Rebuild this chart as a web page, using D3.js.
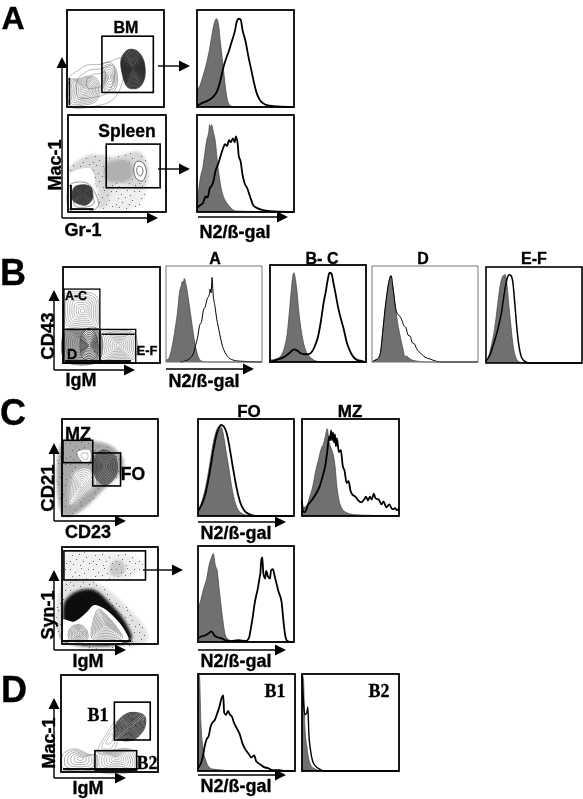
<!DOCTYPE html>
<html>
<head>
<meta charset="utf-8">
<script src="https://cdn.jsdelivr.net/npm/d3@7"></script>
<style>
  html, body { margin: 0; padding: 0; background: #fff; }
  svg { display: block; }
  text { font-family: "Liberation Sans", Arial, sans-serif; font-weight: bold; fill: #000; stroke: #000; stroke-width: 0.35; }
  .serif { font-family: "Liberation Serif", serif; }
</style>
</head>
<body>
<script>
// Histograms: [x%, height%]. ctrl is the grey filled curve.
const bmCtrl = [[0,3],[1,18],[3,22],[5,28],[8,38],[10,46],[13,60],[15,72],[18,87],[20,91],[22,86],[24,68],[26,50],[28,32],[30,15],[32,5],[35,1],[40,0],[100,0]];
const bmSamp = [[0,1],[5,4],[10,6],[15,9],[18,12],[21,17],[24,27],[27,40],[30,50],[33,58],[36,68],[39,78],[41,88],[43,91],[45,90],[47,79],[50,68],[53,52],[56,38],[59,24],[62,13],[65,7],[68,4],[72,2],[78,1],[100,0]];
const spCtrl = [[0,6],[2,25],[4,38],[6,46],[8,60],[10,74],[12,82],[13,90],[14,86],[15,90],[17,82],[19,72],[21,52],[23,36],[25,24],[28,14],[31,9],[35,4],[40,1],[100,0]];
const spSamp = [[0,4],[3,7],[6,9],[9,16],[11,15],[13,24],[15,27],[17,32],[19,42],[22,50],[25,60],[27,66],[29,70],[31,68],[33,74],[35,72],[37,76],[39,72],[40,78],[42,70],[43,58],[45,52],[47,38],[49,30],[52,24],[55,15],[58,7],[62,4],[68,2],[75,1],[100,0]];
const aCtrl = [[0,2],[3,4],[5,10],[8,25],[10,38],[12,52],[14,72],[16,80],[17,84],[18,82],[19,87],[21,80],[23,68],[25,54],[27,40],[30,20],[33,7],[37,1],[42,0],[100,0]];
const aSamp = [[15,0],[20,1],[25,4],[29,10],[31,18],[33,26],[35,38],[37,42],[39,54],[41,58],[43,66],[45,70],[46,76],[47,72],[48,88],[49,72],[51,58],[53,44],[55,34],[57,24],[59,16],[62,9],[66,4],[70,2],[75,1],[100,0]];
const bcCtrl = [[0,2],[6,3],[10,5],[15,15],[18,30],[20,50],[22,72],[24,90],[25,92],[26,88],[28,74],[30,52],[32,36],[34,24],[38,10],[42,5],[48,1],[55,0],[100,0]];
const bcSamp = [[0,0],[6,2],[12,4],[16,6],[20,9],[25,13],[28,12],[32,9],[36,8],[40,8],[44,11],[47,17],[50,26],[53,42],[56,62],[58,72],[60,84],[62,92],[64,91],[66,82],[68,72],[71,56],[74,44],[77,33],[80,20],[83,12],[87,5],[91,2],[96,1],[100,0]];
const dCtrl = [[0,0],[3,2],[6,4],[8,10],[10,30],[12,52],[14,70],[16,84],[18,90],[19,82],[20,76],[22,58],[24,42],[26,30],[29,15],[31,6],[33,6],[35,4],[38,2],[42,1],[50,0],[100,0]];
const dSamp = [[0,0],[3,2],[6,4],[8,10],[10,30],[12,52],[14,70],[16,84],[18,90],[20,76],[22,58],[24,50],[26,48],[28,44],[30,38],[32,36],[34,28],[36,27],[38,20],[40,19],[42,14],[44,11],[47,8],[50,5],[55,3],[60,1],[65,0],[100,0]];
const efCtrl = [[0,2],[3,8],[6,20],[9,36],[12,60],[15,82],[18,91],[20,92],[22,80],[24,58],[26,38],[28,20],[31,6],[35,1],[40,0],[100,0]];
const efSamp = [[0,2],[4,8],[8,20],[12,34],[16,52],[19,72],[22,88],[24,92],[26,91],[28,84],[30,62],[32,38],[34,20],[37,6],[40,2],[45,0],[100,0]];
const foCtrl = [[0,6],[4,15],[8,30],[12,52],[16,76],[20,90],[23,93],[26,86],[29,68],[32,50],[36,25],[40,10],[45,3],[50,1],[58,0],[100,0]];
const foSamp = [[0,5],[4,12],[8,24],[12,44],[16,68],[20,86],[24,94],[27,92],[30,85],[33,70],[36,52],[40,30],[44,14],[48,6],[53,2],[60,0],[100,0]];
const mzCtrl = [[0,10],[2,9],[5,11],[8,20],[11,30],[14,46],[17,58],[20,70],[22,74],[24,82],[26,90],[28,76],[30,70],[32,64],[34,52],[36,30],[38,17],[41,8],[45,4],[50,2],[60,1],[100,0]];
const mzSamp = [[0,16],[1,5],[3,4],[6,11],[9,15],[12,19],[15,24],[18,30],[21,40],[24,52],[26,66],[28,82],[29,78],[30,88],[31,78],[32,86],[33,76],[34,84],[35,72],[36,80],[38,66],[40,68],[42,52],[44,46],[46,34],[48,36],[50,26],[52,22],[55,20],[58,16],[61,14],[64,17],[66,20],[68,16],[70,20],[72,17],[74,23],[76,18],[79,17],[82,12],[84,15],[87,9],[90,12],[93,7],[96,8],[98,6],[100,8]];
const synCtrl = [[0,34],[3,44],[6,56],[9,66],[12,82],[14,88],[16,92],[18,80],[20,74],[22,56],[24,38],[26,22],[28,9],[31,3],[36,1],[45,0],[100,0]];
const synSamp = [[0,4],[4,6],[8,7],[11,9],[14,11],[17,7],[20,5],[24,4],[28,2],[34,1],[42,2],[50,1],[53,4],[55,14],[57,26],[59,40],[61,50],[62,54],[64,66],[65,72],[66,86],[67,88],[68,72],[70,66],[71,74],[73,68],[75,66],[76,74],[78,76],[80,68],[82,60],[84,52],[87,42],[89,22],[91,6],[93,1],[96,0],[100,0]];
const b1Ctrl = [[0,100],[1.5,98],[3,50],[5,25],[8,11],[10,6],[15,2],[25,1],[35,0],[100,0]];
const b1Samp = [[0,3],[3,8],[5,15],[7,26],[9,33],[11,36],[13,46],[15,50],[17,52],[20,60],[22,66],[24,74],[26,78],[27,60],[29,58],[31,62],[33,58],[35,56],[37,50],[40,44],[43,38],[46,28],[49,22],[52,18],[55,14],[58,16],[60,10],[64,7],[68,4],[72,3],[77,1],[84,1],[90,0],[100,0]];
const b2Ctrl = [[0,100],[1.5,95],[3,45],[5,25],[7,12],[9,6],[12,3],[16,1],[22,0],[100,0]];
const b2Samp = [[0,100],[2,65],[3,58],[5,60],[6,66],[7,40],[9,20],[11,10],[14,5],[18,2],[24,0],[100,0]];

// Contour outlines, [x%, y%] inside each dot plot.
const bmDark = [[57,34],[56,50],[63,59],[72,58],[79,48],[80,30],[74,20],[63,20]];
const bmMid = [[36,30],[37,44],[44,46],[50,40],[52,26],[48,16],[40,16]];
const bmLow = [[3,28],[12,29],[22,32],[31,29],[34,18],[30,6],[18,2],[3,2]];
const bmOuter = [[2,30],[12,38],[20,43],[34,44],[44,47],[56,50],[58,30],[48,8],[30,1],[2,1]];
const spWhite = [[3,40],[22,45],[27,36],[26,28],[2,28]];
const spLow = [[5,12],[6,25],[14,28],[23,26],[25,14],[18,7]];
const spRing = [[2,28],[19,30],[27,21],[31,7],[26,2],[2,2]];
const spHigh = [[70,34],[67,44],[70,52],[76,51],[80,42],[76,32]];
const spCloud = [[1,43],[22,59],[46,57],[73,62],[82,45],[77,24],[50,28],[39,7],[31,3],[31,24]];
const spCore = [[39,50],[63,52],[66,40],[63,33],[39,33]];
const spLower = [[30,26],[50,28],[80,22],[72,6],[36,3]];
const acBlob = [[3,40],[3,72],[18,74],[34,70],[37,50],[34,37],[14,37]];
const dOuter = [[2,2],[2,34],[18,35],[37,35],[37,2]];
const dDark = [[20,6],[19,28],[27,36],[34,28],[35,8],[28,3]];
const efBlob = [[39,4],[39,33],[58,34],[74,31],[74,5],[58,3]];
const cd21Cloud = [[1,1],[1,77],[33,77],[50,73],[64,58],[61,44],[43,27],[29,13],[12,1]];
const cd21Main = [[7,20],[12,44],[24,50],[33,44],[36,34],[22,20],[8,11]];
const cd21Fo = [[33,52],[36,64],[44,68],[55,62],[57,44],[46,32],[36,38]];
const cd21Mz = [[16,66],[29,68],[29,56],[21,56]];
const synHalo = [[1,3],[1,64],[20,68],[45,58],[68,38],[88,14],[88,3]];
const synOuter = [[1,25],[3,44],[15,54],[33,56],[50,42],[67,21],[72,4],[1,4]];
const synInner = [[1,25],[12,23],[26,33],[33,40],[43,37],[57,25],[66,13],[69,4],[1,4]];
const synBigRing = [[32,5],[32,22],[38,36],[48,28],[58,16],[63,6]];
const synLeftRing = [[8,4],[8,16],[18,20],[26,14],[26,4]];
const synHaze = [[3,70],[3,93],[40,93],[70,92],[84,82],[70,68],[40,68]];
const synSpot = [[50,72],[52,84],[62,86],[66,76],[60,70]];
const b1Blob = [[57,35],[57,50],[70,61],[86,58],[86,45],[74,33]];
const b1Tail = [[38,20],[46,38],[57,52],[60,40],[52,20]];
const b2Left = [[2,4],[2,18],[14,24],[30,18],[36,18],[36,4]];
const b2Right = [[36,2],[36,20],[50,22],[70,24],[77,16],[77,2]];

// Gates as [x0, x1, y0, y1] in % of their dot plot
const gateBM = [36, 89, 15, 73];
const gateSpleen = [39, 94, 25, 70];
const gateAC = [1, 38, 35, 77];
const gateD = [1, 38, 0, 35];
const gateEF = [38, 75, 0, 35];
const gateMZ = [1, 32, 55, 78];
const gateFO = [32, 61, 31, 65];
const gateSyn = [2, 87, 66, 96];
const gateB1 = [55, 92, 33, 72];
const gateB2 = [35, 78, 2, 22];

const width = 583;
const height = 799;

const svg = d3.select("body").append("svg")
  .attr("width", width)
  .attr("height", height)
  .attr("viewBox", [0, 0, width, height]);

const defs = svg.append("defs");

// slight softening, the source is a blurry scan
defs.append("filter").attr("id", "soft")
  .append("feGaussianBlur").attr("stdDeviation", 0.4);

// heavier blur for the edges of the dot clouds
const haze = defs.append("filter").attr("id", "haze")
  .attr("x", "-30%").attr("y", "-30%").attr("width", "160%").attr("height", "160%");
haze.append("feGaussianBlur").attr("stdDeviation", 1.8);

// fine speckle laid over the clouds so they don't read as flat grey
const speckleSpots = [[1,2],[12,1],[6,5],[15,6],[3,9],[10,8],[17,11],[7,13],[14,15],[1,15],[19,2],[4,18],[11,19],[20,17]];
const speckle = defs.append("pattern").attr("id", "speckle")
  .attr("patternUnits", "userSpaceOnUse").attr("width", 23).attr("height", 21);
speckle.selectAll("rect").data(speckleSpots).enter().append("rect")
  .attr("x", d => d[0]).attr("y", d => d[1])
  .attr("width", 1).attr("height", 1).attr("fill", "#666");

const root = svg.append("g").attr("filter", "url(#soft)");

// a panel is a box on the page with its own 0-100 scales
function panel(x0, y0, x1, y1, strokeW, strokeC) {
  const g = root.append("g");
  const p = {
    g: g,
    x: d3.scaleLinear().domain([0, 100]).range([x0, x1]),
    y: d3.scaleLinear().domain([0, 100]).range([y1, y0]),
    box: [x0, y0, x1 - x0, y1 - y0],
    strokeW: strokeW || 1.8,
    strokeC: strokeC || "#000"
  };
  return p;
}

function border(p) {
  p.g.append("rect")
    .attr("x", p.box[0]).attr("y", p.box[1])
    .attr("width", p.box[2]).attr("height", p.box[3])
    .attr("fill", "none")
    .attr("stroke", p.strokeC)
    .attr("stroke-width", p.strokeW);
}

function hist(p, ctrl, samp, lineW) {
  const area = d3.area().x(d => p.x(d[0])).y0(p.y(0)).y1(d => p.y(d[1])).curve(d3.curveMonotoneX);
  const line = d3.line().x(d => p.x(d[0])).y(d => p.y(d[1])).curve(d3.curveMonotoneX);
  p.g.append("path").datum(ctrl).attr("d", area).attr("fill", "#6f6f6f");
  p.g.append("path").datum(ctrl).attr("d", line).attr("fill", "none").attr("stroke", "#444").attr("stroke-width", 0.7);
  p.g.append("path").datum(samp).attr("d", line).attr("fill", "none").attr("stroke", "#000").attr("stroke-width", lineW || 1.8);
  border(p);
}

// n nested copies of an outline, shrunk toward its centre
function contour(p, pts, n, color, w) {
  const cx = d3.mean(pts, d => d[0]);
  const cy = d3.mean(pts, d => d[1]);
  const line = d3.line().curve(d3.curveCatmullRomClosed);
  const g = p.g.append("g").attr("fill", "none").attr("stroke", color).attr("stroke-width", w || 0.5);
  g.selectAll("path").data(d3.range(n)).enter().append("path")
    .attr("d", function(i) {
      const k = 1 - i / n;
      return line(pts.map(d => [p.x(cx + (d[0] - cx) * k), p.y(cy + (d[1] - cy) * k)]));
    });
}

function region(p, pts, fill) {
  const line = d3.line().x(d => p.x(d[0])).y(d => p.y(d[1])).curve(d3.curveCatmullRomClosed);
  return p.g.append("path").datum(pts).attr("d", line).attr("fill", fill).attr("stroke", "none");
}

// dot cloud: blurred grey body with speckle on top
function cloud(p, pts, grey) {
  region(p, pts, grey).attr("filter", "url(#haze)");
  region(p, pts, "url(#speckle)");
}

function gate(p, r, w) {
  p.g.append("rect")
    .attr("x", p.x(r[0])).attr("y", p.y(r[3]))
    .attr("width", p.x(r[1]) - p.x(r[0])).attr("height", p.y(r[2]) - p.y(r[3]))
    .attr("fill", "none").attr("stroke", "#000").attr("stroke-width", w || 1.6);
}

// heavy line along the edge of a dot plot, where events pile up
function pile(p, x0, x1, y0, y1, w) {
  p.g.append("line")
    .attr("x1", p.x(x0)).attr("x2", p.x(x1))
    .attr("y1", p.y(y0)).attr("y2", p.y(y1))
    .attr("stroke", "#111").attr("stroke-width", w || 2);
}

function arrow(x1, y1, x2, y2) {
  const a = Math.atan2(y2 - y1, x2 - x1);
  const L = 11, W = 5.5;
  const bx = x2 - L * Math.cos(a), by = y2 - L * Math.sin(a);
  root.append("line").attr("x1", x1).attr("y1", y1).attr("x2", bx).attr("y2", by)
    .attr("stroke", "#000").attr("stroke-width", 1.4);
  root.append("path")
    .attr("d", d3.line()([[x2, y2], [bx - W * Math.sin(a), by + W * Math.cos(a)], [bx + W * Math.sin(a), by - W * Math.cos(a)]]) + "Z")
    .attr("fill", "#000");
}

function label(txt, x, y, size, opts) {
  opts = opts || {};
  const t = root.append("text")
    .attr("x", x).attr("y", y)
    .attr("font-size", size)
    .attr("text-anchor", opts.anchor || "middle")
    .text(txt);
  if (opts.rotate) t.attr("transform", `rotate(-90 ${x} ${y})`);
  if (opts.serif) t.attr("class", "serif");
}

/*
  A
*/
const pBM = panel(67, 10, 164, 107);
contour(pBM, bmOuter, 3, "#777");
contour(pBM, bmLow, 10, "#666");
contour(pBM, bmMid, 6, "#555");
region(pBM, bmDark, "#777");
contour(pBM, bmDark, 16, "#111", 0.7);
pile(pBM, 2.5, 2.5, 2, 30, 1.6);
gate(pBM, gateBM);
border(pBM);

const pSpleen = panel(68, 115, 166, 212);
cloud(pSpleen, spLower, "#efefef");
cloud(pSpleen, spCloud, "#d8d8d8");
region(pSpleen, spCore, "#b0b0b0").attr("filter", "url(#haze)");
region(pSpleen, spWhite, "#fff");
region(pSpleen, spRing, "#fff");
contour(pSpleen, spRing, 3, "#333");
region(pSpleen, spLow, "#666");
contour(pSpleen, spLow, 10, "#222", 0.7);
region(pSpleen, spHigh, "#fff");
contour(pSpleen, spHigh, 2, "#333", 0.7);
pile(pSpleen, 2, 26, 3, 3);
pile(pSpleen, 3, 3, 3, 28);
gate(pSpleen, gateSpleen);
border(pSpleen);

hist(panel(197, 10, 294, 107), bmCtrl, bmSamp);
hist(panel(197, 115, 294, 212), spCtrl, spSamp);

label("A", 13, 29, 32);
label("BM", 126, 33, 16);
label("Spleen", 127, 137, 17.5);
label("Mac-1", 61, 165, 18, {rotate: true});
label("Gr-1", 83, 236, 18);
label("N2/ß-gal", 235, 238, 18);
arrow(62, 218, 62, 57);
arrow(62, 218, 158, 218);
arrow(198, 217, 288, 217);
arrow(158, 66, 190, 66);
arrow(158, 169, 190, 169);

/*
  B
*/
const pB = panel(63, 267, 160, 363);
contour(pB, acBlob, 9, "#777");
region(pB, dOuter, "#aaa");
contour(pB, dOuter, 9, "#444");
region(pB, dDark, "#fff");
contour(pB, dDark, 9, "#222", 0.8);
contour(pB, efBlob, 10, "#666");
pile(pB, 2, 70, 2, 2, 2.2);
pile(pB, 40, 74, 30, 30, 1.4);
gate(pB, gateAC, 1.3);
gate(pB, gateD, 1.3);
gate(pB, gateEF, 1.3);
border(pB, 1.4);

hist(panel(166, 266, 262, 362, 1, "#777"), aCtrl, aSamp, 1);
hist(panel(270, 265, 366, 362, 1.8), bcCtrl, bcSamp, 1.8);
hist(panel(372, 266, 478, 362, 1, "#777"), dCtrl, dSamp, 1);
hist(panel(486, 267, 582, 363, 1.6), efCtrl, efSamp, 1.5);

label("B", 13, 285, 36);
label("A-C", 76, 300, 12.5);
label("D", 72, 359, 14);
label("E-F", 147, 355, 13);
label("A", 215, 264, 16);
label("B- C", 322, 264, 16);
label("D", 423, 264, 16);
label("E-F", 534, 264, 16);
label("CD43", 54, 336, 18.5, {rotate: true});
label("IgM", 81, 386, 18);
label("N2/ß-gal", 204, 387, 18);
arrow(54, 370, 54, 290);
arrow(54, 370, 135, 370);
arrow(166, 369, 254, 369);

/*
  C
*/
const pCD = panel(62, 419, 158, 516);
cloud(pCD, cd21Cloud, "#a8a8a8");
region(pCD, cd21Main, "#fff").attr("filter", "url(#haze)");
contour(pCD, cd21Main, 8, "#777");
region(pCD, cd21Fo, "#7a7a7a");
contour(pCD, cd21Fo, 8, "#333", 0.7);
region(pCD, cd21Mz, "#fff");
contour(pCD, cd21Mz, 2, "#777");
gate(pCD, gateMZ);
gate(pCD, gateFO);
border(pCD);

const pSyn = panel(62, 547, 158, 644);
cloud(pSyn, synHaze, "#f0f0f0");
cloud(pSyn, synSpot, "#c8c8c8");
cloud(pSyn, synHalo, "#e2e2e2");
region(pSyn, synOuter, "#0a0a0a").attr("filter", "url(#haze)");
region(pSyn, synInner, "#fff");
contour(pSyn, synBigRing, 10, "#555");
contour(pSyn, synLeftRing, 7, "#444");
pile(pSyn, 1, 72, 3, 3, 2);
gate(pSyn, gateSyn);
border(pSyn);

hist(panel(198, 419, 294, 516), foCtrl, foSamp);
hist(panel(302, 419, 399, 516), mzCtrl, mzSamp);
hist(panel(198, 546, 294, 642), synCtrl, synSamp);

label("C", 13, 425, 36);
label("FO", 249, 417, 17);
label("MZ", 350, 417, 17);
label("MZ", 78, 440, 18);
label("FO", 133, 480, 17.5);
label("CD21", 54, 488, 18.5, {rotate: true});
label("CD23", 88, 538, 18);
label("Syn-1", 54, 615, 18, {rotate: true});
label("IgM", 88, 667, 18);
label("N2/ß-gal", 236, 539, 18);
label("N2/ß-gal", 236, 667, 18);
arrow(54, 521, 54, 443);
arrow(54, 521, 126, 521);
arrow(198, 522, 286, 522);
arrow(143, 570, 183, 570);
arrow(54, 650, 54, 570);
arrow(54, 650, 126, 650);
arrow(198, 650, 286, 650);

/*
  D
*/
const pD = panel(61, 675, 158, 772);
contour(pD, b2Left, 6, "#666");
contour(pD, b2Right, 9, "#777");
contour(pD, b1Tail, 3, "#888");
region(pD, b1Blob, "#aaa");
contour(pD, b1Blob, 12, "#222", 0.8);
pile(pD, 2, 78, 3, 3, 2.2);
gate(pD, gateB1);
gate(pD, gateB2);
border(pD);

hist(panel(198, 674, 295, 771), b1Ctrl, b1Samp);
hist(panel(302, 674, 399, 771), b2Ctrl, b2Samp, 1.4);

label("D", 14, 702, 36);
label("B1", 98, 721, 18, {serif: true});
label("B2", 147, 769, 18, {serif: true});
label("B1", 275, 697, 18, {serif: true});
label("B2", 379, 697, 18, {serif: true});
label("Mac-1", 55, 743, 18, {rotate: true});
label("IgM", 88, 794, 18);
label("N2/ß-gal", 236, 792, 18);
arrow(54, 778, 54, 698);
arrow(54, 778, 126, 778);
arrow(198, 775, 286, 775);
</script>
</body>
</html>
